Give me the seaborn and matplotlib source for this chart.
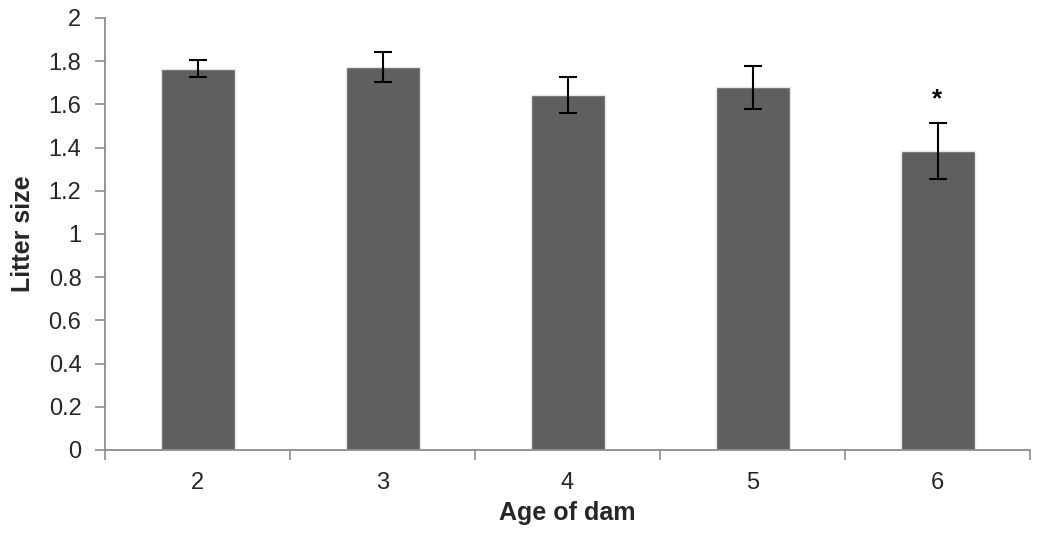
import matplotlib
matplotlib.use("Agg")
import matplotlib.pyplot as plt
import seaborn as sns
import pandas as pd
import numpy as np
from matplotlib.ticker import FixedLocator, MultipleLocator

ages = ["2", "3", "4", "5", "6"]
litter_size = [1.765, 1.773, 1.644, 1.680, 1.384]
sem = [0.040, 0.070, 0.085, 0.100, 0.130]
significance = ["", "", "", "", "*"]

sns.set_style("white")
plt.rcParams["font.family"] = ["Liberation Sans", "DejaVu Sans"]

df = pd.DataFrame({"age": ages, "litter": litter_size})

fig = plt.figure(figsize=(10.43, 5.33), dpi=100)
ax = fig.add_axes([105/1043, 1 - 450/533, (1030-105)/1043, (450-18)/533])

sns.barplot(data=df, x="age", y="litter", color="#5f5f5f", saturation=1,
            width=0.4, errorbar=None, ax=ax, edgecolor="#e6e6e6", linewidth=1.0)

xs = np.arange(len(ages))
ax.errorbar(xs, litter_size, yerr=sem, fmt="none", ecolor="black",
            elinewidth=1.5, capsize=6.5, capthick=1.5)

for x, v, e, s in zip(xs, litter_size, sem, significance):
    if s:
        ax.text(x, v + e + 0.11, s, ha="center", va="center", fontsize=19,
                fontweight="bold", color="black")

ax.set_xlim(-0.5, len(ages) - 0.5)
ax.set_ylim(0, 2)
ax.yaxis.set_major_locator(MultipleLocator(0.2))
ax.set_yticklabels([("%g" % round(t, 1)) for t in ax.get_yticks()])

ax.xaxis.set_minor_locator(FixedLocator(np.arange(-0.5, len(ages), 1.0)))
ax.tick_params(axis="x", which="major", length=0, pad=16, labelsize=17)
ax.tick_params(axis="x", which="minor", length=7, width=1.2, color="#8c8c8c", direction="out", bottom=True)
ax.tick_params(axis="y", which="major", length=7, width=1.2, color="#8c8c8c", direction="out", left=True, labelsize=17, pad=10)

for side in ["top", "right"]:
    ax.spines[side].set_visible(False)
for side in ["left", "bottom"]:
    ax.spines[side].set_color("#8c8c8c")
    ax.spines[side].set_linewidth(1.3)

ax.set_xlabel("Age of dam", fontsize=18, fontweight="bold", labelpad=5)
ax.set_ylabel("Litter size", fontsize=18, fontweight="bold", labelpad=10)

fig.savefig("out.png", dpi=100)
